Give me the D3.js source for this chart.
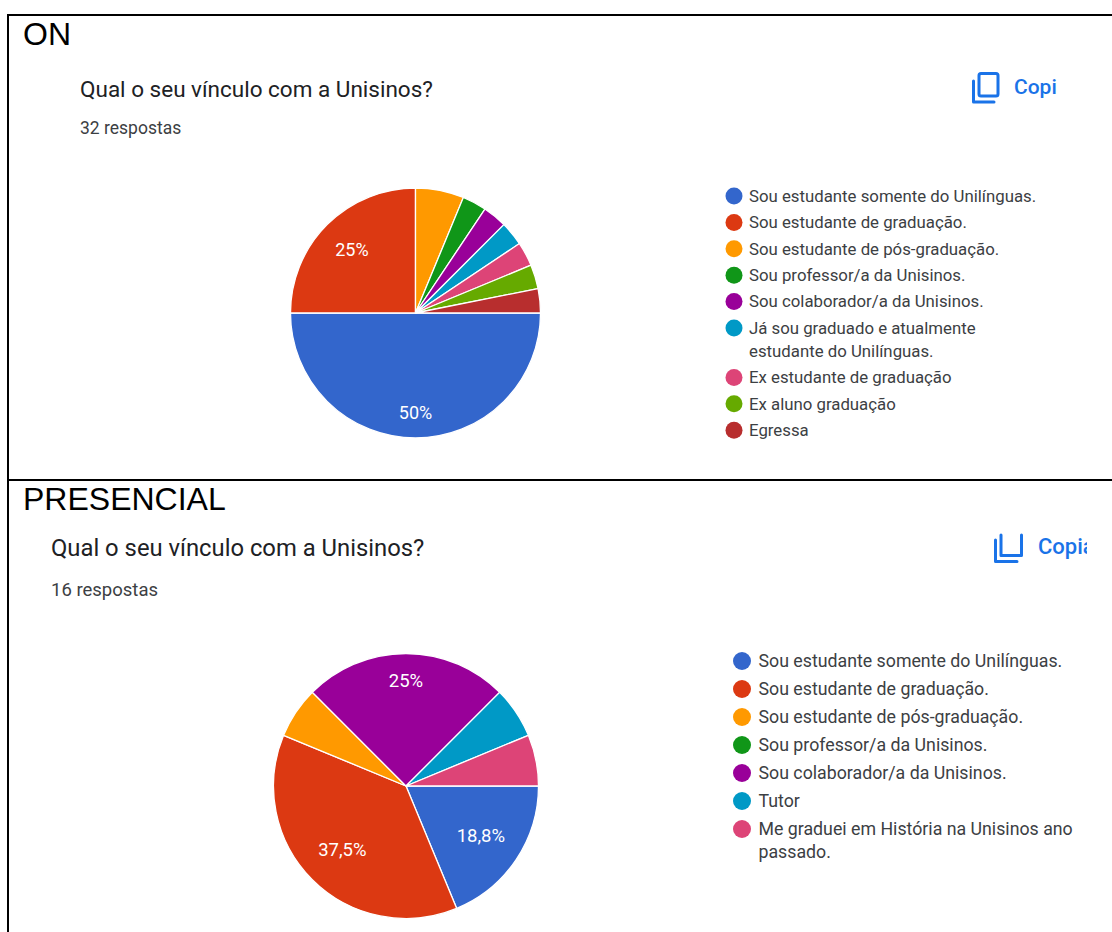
<!DOCTYPE html>
<html>
<head>
<meta charset="utf-8">
<script src="https://cdn.jsdelivr.net/npm/d3@7"></script>
<style>
	html, body { margin: 0; background: #fff; }
	svg { display: block; }
	text { font-family: Roboto, sans-serif; }
	.section { font-family: "Liberation Sans", Arial, sans-serif; fill: #000; }
</style>
</head>
<body>
<svg class="chart"></svg>
<script>
const colors = ['#3366cc', '#dc3912', '#ff9900', '#109618', '#990099', '#0099c6', '#dd4477', '#66aa00', '#b82e2e'];

const question = 'Qual o seu vínculo com a Unisinos?';

// ON
const onCategories = [
	['Sou estudante somente do Unilínguas.'],
	['Sou estudante de graduação.'],
	['Sou estudante de pós-graduação.'],
	['Sou professor/a da Unisinos.'],
	['Sou colaborador/a da Unisinos.'],
	['Já sou graduado e atualmente', 'estudante do Unilínguas.'],
	['Ex estudante de graduação'],
	['Ex aluno graduação'],
	['Egressa']
];
const onValues = [16, 8, 2, 1, 1, 1, 1, 1, 1];
const onLabels = ['50%', '25%', '', '', '', '', '', '', ''];

// PRESENCIAL
const presencialCategories = [
	['Sou estudante somente do Unilínguas.'],
	['Sou estudante de graduação.'],
	['Sou estudante de pós-graduação.'],
	['Sou professor/a da Unisinos.'],
	['Sou colaborador/a da Unisinos.'],
	['Tutor'],
	['Me graduei em História na Unisinos ano', 'passado.']
];
const presencialValues = [3, 6, 1, 0, 4, 1, 1];
const presencialLabels = ['18,8%', '37,5%', '', '', '25%', '', ''];

const width = 1112,
	height = 932;

const svg = d3.select('.chart')
	.attr('width', width)
	.attr('height', height);

const blue = '#1a73e8';

const drawPanel = p => {
	svg.append('text')
		.attr('class', 'section')
		.attr('x', p.sectionX)
		.attr('y', p.sectionY)
		.attr('font-size', 32)
		.text(p.section);

	svg.append('text')
		.attr('x', p.titleX)
		.attr('y', p.titleY)
		.attr('font-size', p.titleSize)
		.attr('fill', '#202124')
		.text(question);

	svg.append('text')
		.attr('x', p.titleX)
		.attr('y', p.countY)
		.attr('font-size', p.countSize)
		.attr('fill', '#3c4043')
		.text(p.count);

	// pie, google forms starts the first slice at 3 o'clock
	const pie = d3.pie()
		.sort(null)
		.startAngle(Math.PI / 2)
		.endAngle(Math.PI * 2.5);

	const arc = d3.arc()
		.innerRadius(0)
		.outerRadius(p.radius);

	const g = svg.append('g')
		.attr('transform', `translate(${p.cx}, ${p.cy})`);

	const slices = pie(p.values);

	g.selectAll('path')
		.data(slices)
		.enter().append('path')
		.attr('d', arc)
		.attr('fill', (d, i) => colors[i])
		.attr('stroke', '#fff')
		.attr('stroke-width', d => d.value ? 1.3 : 0);

	// labels sit further out when the slice points straight along an axis
	const labelPos = d => {
		const a = (d.startAngle + d.endAngle) / 2;
		const dist = Math.abs(Math.sin(2 * a)) > 0.5 ? 90 : p.radius * 0.795;
		return [Math.sin(a) * dist, -Math.cos(a) * dist];
	};

	g.selectAll('text')
		.data(slices.filter(d => p.labels[d.index]))
		.enter().append('text')
		.attr('x', d => labelPos(d)[0])
		.attr('y', d => labelPos(d)[1])
		.attr('dy', '0.35em')
		.attr('text-anchor', 'middle')
		.attr('font-size', p.labelSize)
		.attr('fill', '#fff')
		.text(d => p.labels[d.index]);

	// legend
	let rowY = p.legendY;
	const legend = svg.append('g');
	p.categories.forEach((lines, i) => {
		legend.append('circle')
			.attr('cx', p.legendX)
			.attr('cy', rowY)
			.attr('r', p.dot)
			.attr('fill', colors[i]);
		lines.forEach((line, j) => {
			legend.append('text')
				.attr('x', p.legendTextX)
				.attr('y', rowY + j * p.lineStep)
				.attr('dy', '0.35em')
				.attr('font-size', p.legendSize)
				.attr('fill', '#3c4043')
				.text(line);
		});
		rowY += p.rowStep + (lines.length - 1) * p.lineStep;
	});
};

drawPanel({
	section: 'ON', sectionX: 23, sectionY: 45,
	titleX: 80, titleY: 97, titleSize: 22.5,
	count: '32 respostas', countY: 134, countSize: 17.5,
	values: onValues, labels: onLabels, categories: onCategories,
	cx: 415.5, cy: 313, radius: 125, labelSize: 18,
	legendX: 734, legendTextX: 749, legendY: 196, rowStep: 26.4, lineStep: 23,
	legendSize: 16.8, dot: 8.5
});

drawPanel({
	section: 'PRESENCIAL', sectionX: 23, sectionY: 510,
	titleX: 51, titleY: 556, titleSize: 23.8,
	count: '16 respostas', countY: 596, countSize: 18.5,
	values: presencialValues, labels: presencialLabels, categories: presencialCategories,
	cx: 406, cy: 786, radius: 132.5, labelSize: 18.5,
	legendX: 742, legendTextX: 758.5, legendY: 661, rowStep: 28, lineStep: 23,
	legendSize: 17.75, dot: 9
});

// copy buttons, the lower one is cut off by the screenshot
svg.append('defs').append('clipPath')
	.attr('id', 'copyClip')
	.append('rect')
	.attr('x', 1030)
	.attr('y', 530)
	.attr('width', 57)
	.attr('height', 40);

const iconLine = d3.line();

const icons = svg.append('g')
	.attr('fill', 'none')
	.attr('stroke', blue)
	.attr('stroke-width', 3)
	.attr('stroke-linecap', 'round')
	.attr('stroke-linejoin', 'round');

icons.append('rect')
	.attr('x', 979).attr('y', 73.5)
	.attr('width', 19).attr('height', 22.5)
	.attr('rx', 2);
icons.append('path').attr('d', iconLine([[973.5, 81], [973.5, 102], [994, 102]]));
icons.append('path').attr('d', iconLine([[995.5, 540], [995.5, 561.5], [1017, 561.5]]));
icons.append('path').attr('d', iconLine([[1001, 535], [1001, 555.5], [1021.5, 555.5], [1021.5, 535]]));

svg.append('text')
	.attr('x', 1014)
	.attr('y', 94)
	.attr('font-size', 21)
	.attr('font-weight', 500)
	.attr('fill', blue)
	.text('Copi');

svg.append('text')
	.attr('x', 1038)
	.attr('y', 554)
	.attr('font-size', 22)
	.attr('font-weight', 500)
	.attr('fill', blue)
	.attr('clip-path', 'url(#copyClip)')
	.text('Copiar');

// table borders
const borders = svg.append('g')
	.attr('stroke', '#000')
	.attr('stroke-width', 2);

borders.append('line').attr('x1', 8).attr('x2', width).attr('y1', 15).attr('y2', 15);
borders.append('line').attr('x1', 8).attr('x2', width).attr('y1', 480).attr('y2', 480);
borders.append('line').attr('x1', 8).attr('x2', 8).attr('y1', 14).attr('y2', height);
</script>
</body>
</html>
